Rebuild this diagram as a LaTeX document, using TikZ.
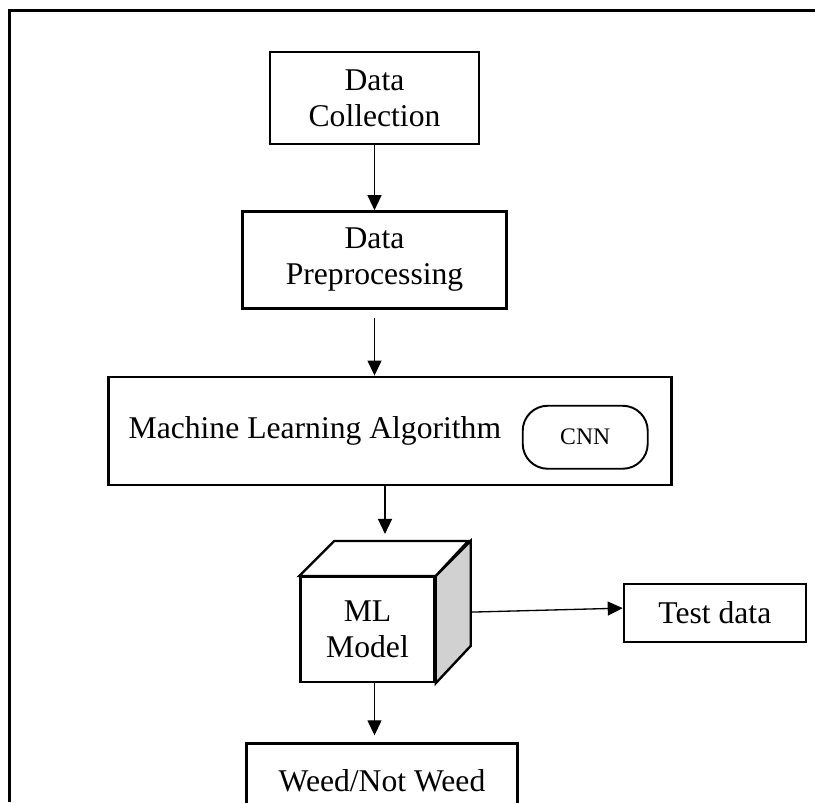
\documentclass[tikz,border=0pt]{standalone}
\usepackage{fontspec}
\setmainfont{Liberation Serif}
\usepackage{xcolor}
\usetikzlibrary{positioning, calc, arrows.meta}
\definecolor{CubeSide}{RGB}{209, 209, 209}

\begin{document}
\begin{tikzpicture}[node distance=1.3cm]
        \tikzset{
            step_box/.style={rectangle, draw=black, line width=1.35pt, fill=white, align=center, inner sep=0pt, font=\fontsize{18}{20.5}\selectfont},
            algo_tag/.style={rectangle, draw=black, line width=1.1pt, rounded corners=0.5cm, minimum width=2.5cm, minimum height=1.26cm, font=\fontsize{13.5}{16}\selectfont},
            flow_arrow/.style={-{Triangle[length=0.3cm, width=0.28cm]}, line width=0.75pt}
        }
        \useasboundingbox (0,0) rectangle (16.3,-16.04);
        \draw[line width=1.2pt] (0.19,-16.04) -- (0.19,-0.21) -- (16.3,-0.21);

        \node[step_box, minimum width=4.18cm, minimum height=1.84cm] (coll) at (7.49,-1.96) {Data\\Collection};
        \node[step_box, minimum width=5.28cm, minimum height=1.94cm, below=1.3cm of coll] (prep) {Data\\Preprocessing};

        \node[step_box, minimum width=11.26cm, minimum height=2.16cm, below=1.32cm of prep, xshift=0.31cm] (algo) {};
        \node[anchor=west, inner sep=0pt, font=\fontsize{18}{20.5}\selectfont] (algotxt) at ($(algo.west)+(0.42,0)$) {Machine Learning Algorithm};
        \node[algo_tag, left=0.48cm of algo.east, yshift=-0.13cm] (cnn) {CNN};

        \node[step_box, minimum width=2.68cm, minimum height=2.1cm, below=1.8cm of algo, xshift=-0.45cm] (model) {ML\\Model};
        \draw[line width=1.35pt, fill=CubeSide] (model.north east) -- ++(0.7,0.7) -- ++(0,-2.1) -- (model.south east) -- cycle;
        \draw[line width=1.35pt, fill=white] (model.north west) -- ++(0.7,0.7) -- ++(2.68,0) -- (model.north east) -- cycle;
        \coordinate (modeltop) at ($(model.north)+(0.35,0.7)$);
        \coordinate (modelside) at ($(model.east)+(0.7,0.35)$);
        \coordinate (modelfoot) at ($(model.south)+(0.14,0)$);

        \node[step_box, minimum width=3.64cm, minimum height=1.16cm, right=3.74cm of model, yshift=0.33cm] (test) {Test data};
        \node[step_box, minimum width=5.42cm, minimum height=1.5cm, below=1.18cm of model, xshift=0.29cm] (weed) {Weed/Not Weed};

        \draw[flow_arrow] (coll.south) -- (prep.north);
        \draw[flow_arrow, shorten <=0.16cm] (prep.south) -- (prep.south |- algo.north);
        \draw[flow_arrow, shorten >=0.14cm] (modeltop |- algo.south) -- (modeltop);
        \draw[flow_arrow] (modelside) -- ($(test.west)+(0,0.1)$);
        \draw[flow_arrow, shorten >=0.14cm] (modelfoot) -- (modelfoot |- weed.north);

    \end{tikzpicture}
\end{document}
